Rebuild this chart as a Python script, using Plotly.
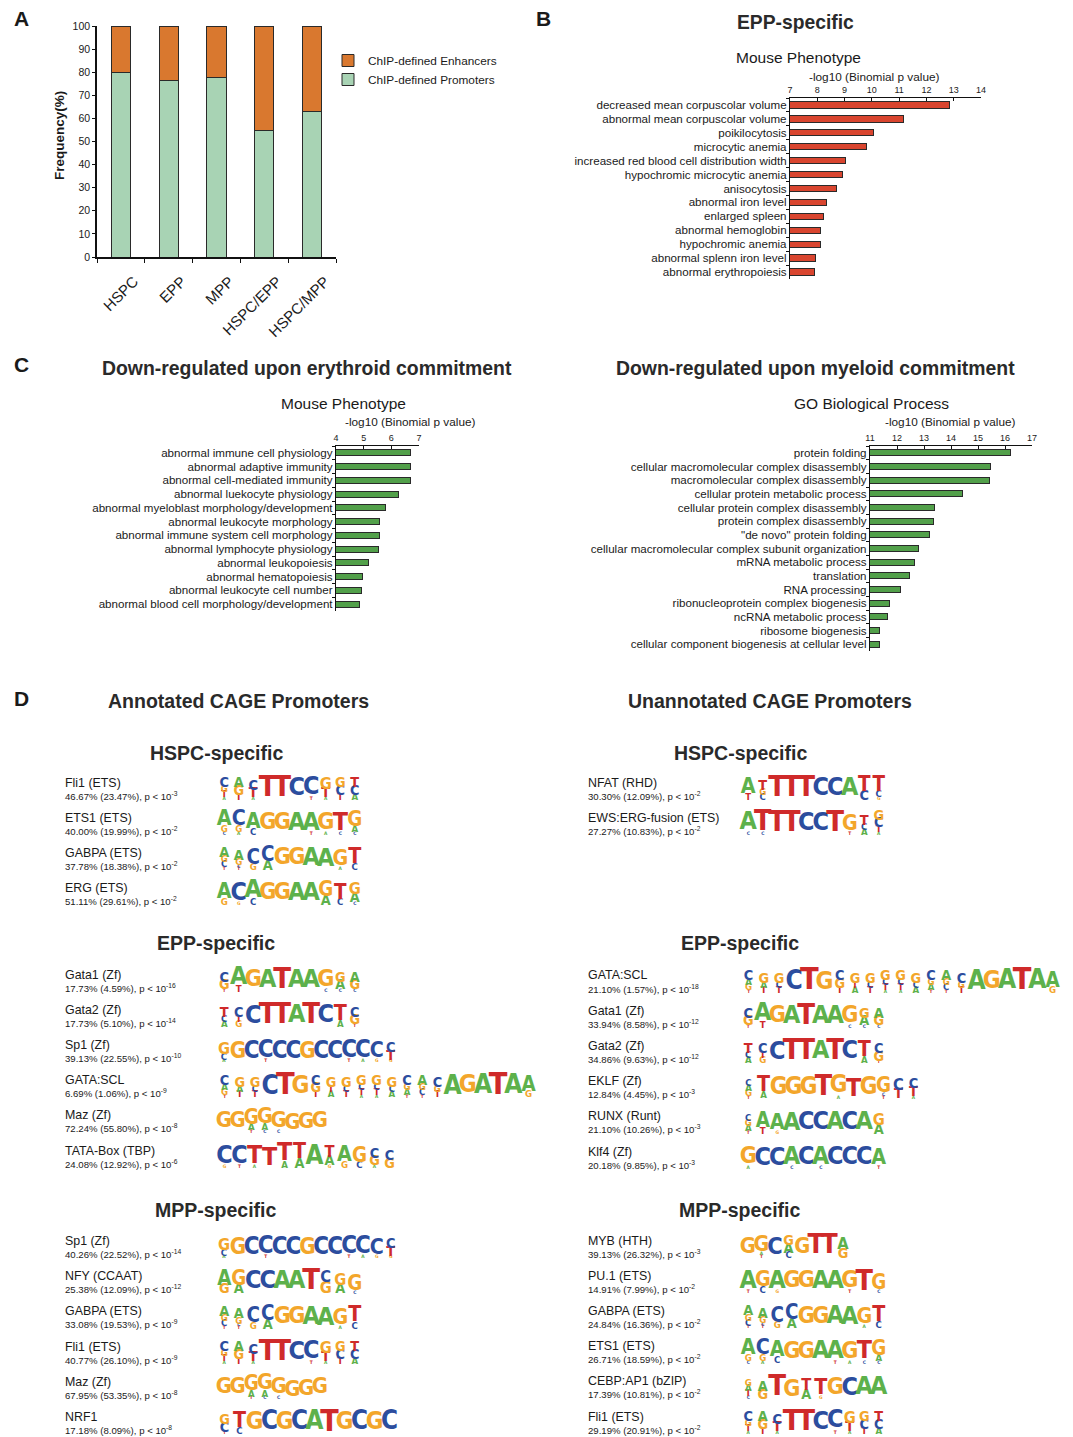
import re
import subprocess
import plotly.graph_objects as go

W, H = 1073, 1437      # browser window
OFF = 8                # default page (body) margin in front of the figure
FW, FH = W - OFF, H - OFF
FONT = "Liberation Sans, Arial, sans-serif"

# ---------------- Panel A data ----------------
a_categories = ["HSPC", "EPP", "MPP", "HSPC/EPP", "HSPC/MPP"]
a_promoters = [79.8, 76.2, 77.6, 54.8, 63.2]
a_enhancers = [20.2, 23.8, 22.4, 45.2, 36.8]

# ---------------- Panel B data ----------------
b_terms = ["decreased mean corpuscolar volume", "abnormal mean corpuscolar volume", "poikilocytosis",
           "microcytic anemia", "increased red blood cell distribution width", "hypochromic microcytic anemia",
           "anisocytosis", "abnormal iron level", "enlarged spleen", "abnormal hemoglobin",
           "hypochromic anemia", "abnormal splenn iron level", "abnormal erythropoiesis"]
b_values = [12.84, 11.16, 10.06, 9.81, 9.02, 8.94, 8.72, 8.35, 8.22, 8.11, 8.11, 7.94, 7.91]

# ---------------- Panel C data ----------------
c1_terms = ["abnormal immune cell physiology", "abnormal adaptive immunity", "abnormal cell-mediated immunity",
            "abnormal luekocyte physiology", "abnormal myeloblast morphology/development",
            "abnormal leukocyte morphology", "abnormal immune system cell morphology",
            "abnormal lymphocyte physiology", "abnormal leukopoiesis", "abnormal hematopoiesis",
            "abnormal leukocyte cell number", "abnormal blood cell morphology/development"]
c1_values = [6.71, 6.69, 6.69, 6.26, 5.78, 5.59, 5.56, 5.53, 5.16, 4.94, 4.91, 4.85]

c2_terms = ["protein folding", "cellular macromolecular complex disassembly", "macromolecular complex disassembly",
            "cellular protein metabolic process", "cellular protein complex disassembly",
            "protein complex disassembly", "\"de novo\" protein folding",
            "cellular macromolecular complex subunit organization", "mRNA metabolic process", "translation",
            "RNA processing", "ribonucleoprotein complex biogenesis", "ncRNA metabolic process",
            "ribosome biogenesis", "cellular component biogenesis at cellular level"]
c2_values = [16.22, 15.47, 15.41, 14.43, 13.40, 13.35, 13.19, 12.78, 12.63, 12.45, 12.12, 11.72, 11.66, 11.37, 11.35]

# ---------------- Panel D data (logo columns: letter+weight, top -> bottom, 9 = full) ----------------
MOTIF_FLI1 = "C3G2T2A1 A3G3T2 C3T3A1 T9 T9 C9 C8T1 G4T3A1 G3C3T2 T3C3A2"
MOTIF_ETS1 = "A6G2C1 C6G2A1 A6C2 G9 G9 A9 A7T1 G7A1 T7C1 G5A2C1"
MOTIF_GABPA = "A3G2C2T1 A3G2C1T1 C5G2 C5A3 G9 G9 A9 A8 G6A1 T6C2"
MOTIF_ERG = "A6G2 C7G1 A7C2 G9 G9 A9 A9 G5A3 T5C2 G4A3C1"
MOTIF_NFAT = "A6T2 T3G2C2 T9 T9 T9 C9 C9 A9 T5C3 T5C2G1"
MOTIF_EWSERG = "A8C1 T8C1 T9 T9 C9 C9 T9 G6T1 T3C2A2 G3C3T2A1"
MOTIF_GATA1 = "C3G3T1 A7T2 G9 A9 T9 A9 A9 G7C1 G3A3C1 A3G3C1"
MOTIF_GATA2 = "T3C2A2 C3T2G2 C8 T9 T9 A9 T9 C9 T6A2 C3G3T1"
MOTIF_SP1 = "G4C2A1 G8 C8 C7T1 C8 C8 G8 C8 C8 C7T1 C7A1 C6G1 C3T3G1"
MOTIF_GATASCL = ("C3A2G2T1 G3A2T2 G3C2T2 C8 T9 G8 C3G3T2 G3T2A2 G3C2T2 G3C2T2A1 G3C2T2A1 "
                 "G3C2A2 C3G2A2T1 A3G2C2T1 C3G2T2 A8 G9 A9 T9 A9 A5G2")
MOTIF_MAZ = "G9 G9 G5A2T1 G6A2C1 G7C1 G7 G8 G9"
MOTIF_TATA = "C7G1 C7T1 T7A1 T7 T7A2 T6A3 A8 T4A3G1 A6G2 G5C2 C3G3A1 C3G3"
MOTIF_EKLF = "C2A2G2T1 T6A2 G8 G8 G8 T8 G8A1 T7 G8 G5C1T1 C4T3 C3T3A1"
MOTIF_RUNX = "C2G2A2T1 A5T2 A6G1 A8 C9 C9 A9 C9 A9 G4A3"
MOTIF_KLF4 = "G7A1 C8 C8 A7C1 C9 A7C1 C9 C9 C9 A6T1"
MOTIF_NFY = "A5G3 G5A3 C9 C9 A9 A9 T9 C4G4 G4A3 G5C1"
MOTIF_NRF1 = "G3C3T1 T6C2 G9 C9 G9 C9 A9 T9 G9 C9 G9 C9"
MOTIF_MYB = "G8 G6A1T1 C8 G3A3C2 G8 T9 T9 A4G3"
MOTIF_PU1 = "A7T1 G6C2 A7G1 G9 G9 A9 A9 G7T1 T8 G5C1"
MOTIF_CEBP = "G2A2T2C1 A3G3 T9 G7 T4A3 T6G1 G8 C8 A9 A9"

dl_hspc_names = ["Fli1 (ETS)", "ETS1 (ETS)", "GABPA (ETS)", "ERG (ETS)"]
dl_hspc_pct = ["46.67% (23.47%)", "40.00% (19.99%)", "37.78% (18.38%)", "51.11% (29.61%)"]
dl_hspc_pexp = [-3, -2, -2, -2]
dl_hspc_motifs = [MOTIF_FLI1, MOTIF_ETS1, MOTIF_GABPA, MOTIF_ERG]

dr_hspc_names = ["NFAT (RHD)", "EWS:ERG-fusion (ETS)"]
dr_hspc_pct = ["30.30% (12.09%)", "27.27% (10.83%)"]
dr_hspc_pexp = [-2, -2]
dr_hspc_motifs = [MOTIF_NFAT, MOTIF_EWSERG]

dl_epp_names = ["Gata1 (Zf)", "Gata2 (Zf)", "Sp1 (Zf)", "GATA:SCL", "Maz (Zf)", "TATA-Box (TBP)"]
dl_epp_pct = ["17.73% (4.59%)", "17.73% (5.10%)", "39.13% (22.55%)", "6.69% (1.06%)",
              "72.24% (55.80%)", "24.08% (12.92%)"]
dl_epp_pexp = [-16, -14, -10, -9, -8, -6]
dl_epp_motifs = [MOTIF_GATA1, MOTIF_GATA2, MOTIF_SP1, MOTIF_GATASCL, MOTIF_MAZ, MOTIF_TATA]

dr_epp_names = ["GATA:SCL", "Gata1 (Zf)", "Gata2 (Zf)", "EKLF (Zf)", "RUNX (Runt)", "Klf4 (Zf)"]
dr_epp_pct = ["21.10% (1.57%)", "33.94% (8.58%)", "34.86% (9.63%)", "12.84% (4.45%)",
              "21.10% (10.26%)", "20.18% (9.85%)"]
dr_epp_pexp = [-18, -12, -12, -3, -3, -3]
dr_epp_motifs = [MOTIF_GATASCL, MOTIF_GATA1, MOTIF_GATA2, MOTIF_EKLF, MOTIF_RUNX, MOTIF_KLF4]

dl_mpp_names = ["Sp1 (Zf)", "NFY (CCAAT)", "GABPA (ETS)", "Fli1 (ETS)", "Maz (Zf)", "NRF1"]
dl_mpp_pct = ["40.26% (22.52%)", "25.38% (12.09%)", "33.08% (19.53%)", "40.77% (26.10%)",
              "67.95% (53.35%)", "17.18% (8.09%)"]
dl_mpp_pexp = [-14, -12, -9, -9, -8, -8]
dl_mpp_motifs = [MOTIF_SP1, MOTIF_NFY, MOTIF_GABPA, MOTIF_FLI1, MOTIF_MAZ, MOTIF_NRF1]

dr_mpp_names = ["MYB (HTH)", "PU.1 (ETS)", "GABPA (ETS)", "ETS1 (ETS)", "CEBP:AP1 (bZIP)", "Fli1 (ETS)"]
dr_mpp_pct = ["39.13% (26.32%)", "14.91% (7.99%)", "24.84% (16.36%)", "26.71% (18.59%)",
              "17.39% (10.81%)", "29.19% (20.91%)"]
dr_mpp_pexp = [-3, -2, -2, -2, -2, -2]
dr_mpp_motifs = [MOTIF_MYB, MOTIF_PU1, MOTIF_GABPA, MOTIF_ETS1, MOTIF_CEBP, MOTIF_FLI1]

# ---------------- styles ----------------
GREEN_A = "#A8D3B4"
ORANGE_A = "#D9782F"
RED_B = "#D9452F"
GREEN_C = "#52A04A"
BASE_COL = {"A": "#5DB14B", "C": "#2C4D9E", "G": "#F3A62B", "T": "#CF2A2A"}
TXT = "#1a1a1a"
TITLE = "#2a2a2a"


# ---------------- logo font: prefer a condensed face if present ----------------
def installed_families():
    try:
        out = subprocess.run(["fc-list", ":", "family"], capture_output=True, text=True, timeout=20).stdout
    except Exception:
        return set()
    fams = set()
    for line in out.splitlines():
        for f in line.split(","):
            fams.add(f.strip())
    return fams


_fams = installed_families()
LOGO_FONT, WF = "Liberation Sans", 0.778     # em width of 'G'
for _name, _wf in [("Noto Sans ExtraCondensed", 0.45), ("Noto Sans Condensed", 0.55),
                   ("Liberation Sans Narrow", 0.64), ("DejaVu Sans Condensed", 0.70)]:
    if _name in _fams:
        LOGO_FONT, WF = _name, _wf
        break
LETTER_W = {"G": 1.0, "C": 0.93, "A": 0.93, "T": 0.80}
CAP = 0.72

# logo column widths (px) - layout only
COL_W_DEFAULT = 14.5
COL_W = {MOTIF_GATASCL: 15.2, MOTIF_SP1: 13.9, MOTIF_MAZ: 13.7, MOTIF_MYB: 13.6,
         MOTIF_TATA: 15.0, MOTIF_EKLF: 15.0, MOTIF_NRF1: 15.0}
HFULL = 23.0
ROW_STEP = 35.2


# ---------- coordinate mapping (page pixel -> figure paper) ----------
def px(x):
    return (x - OFF) / FW


def py(y):
    return 1 - (y - OFF) / FH


def parse_motif(m):
    return [[(L, int(w)) for L, w in re.findall(r"([ACGT])(\d)", tok)] for tok in m.split()]


groups = [
    (65, 217, 216, "HSPC-specific", 753, 782.7, 35.0, dl_hspc_names, dl_hspc_pct, dl_hspc_pexp, dl_hspc_motifs),
    (588, 741, 740, "HSPC-specific", 753, 782.7, 35.0, dr_hspc_names, dr_hspc_pct, dr_hspc_pexp, dr_hspc_motifs),
    (65, 217, 216, "EPP-specific", 943, 974.5, ROW_STEP, dl_epp_names, dl_epp_pct, dl_epp_pexp, dl_epp_motifs),
    (588, 741, 740, "EPP-specific", 943, 975.5, ROW_STEP, dr_epp_names, dr_epp_pct, dr_epp_pexp, dr_epp_motifs),
    (65, 217, 216, "MPP-specific", 1210, 1241, ROW_STEP, dl_mpp_names, dl_mpp_pct, dl_mpp_pexp, dl_mpp_motifs),
    (588, 741, 740, "MPP-specific", 1210, 1240.5, ROW_STEP, dr_mpp_names, dr_mpp_pct, dr_mpp_pexp, dr_mpp_motifs),
]

lx, ly, lt, ls, lc = [], [], [], [], []
for (xt, xl, xc, title, yt, y0, step, names, pct, pexp, motifs) in groups:
    for i, mot in enumerate(motifs):
        ybase = y0 + i * step + 17.5
        cw = COL_W.get(mot, COL_W_DEFAULT)
        for j, col in enumerate(parse_motif(mot)):
            cum = 0.0
            for L, w in reversed(col):
                h = w * HFULL / 9.0
                boost = 1.35 if w <= 3 else (1.15 if w <= 5 else 1.0)
                fs = min(boost * h / CAP, cw * 1.12 / (WF * LETTER_W[L]))
                lx.append(xl + (j + 0.5) * cw)
                ly.append(ybase - cum - h / 2.0)
                lt.append("<b>%s</b>" % L)
                ls.append(max(fs, 1.5))
                lc.append(BASE_COL[L])
                cum += h

fig = go.Figure()

# ---------- Panel A ----------
fig.add_trace(go.Bar(x=a_categories, y=a_promoters, name="ChIP-defined Promoters", width=0.4,
                     marker=dict(color=GREEN_A, line=dict(color="#2a2a2a", width=1)),
                     xaxis="x", yaxis="y"))
fig.add_trace(go.Bar(x=a_categories, y=a_enhancers, name="ChIP-defined Enhancers", width=0.4,
                     marker=dict(color=ORANGE_A, line=dict(color="#2a2a2a", width=1)),
                     xaxis="x", yaxis="y"))


# ---------- Panels B, C ----------
def hbar(terms, values, color, xa, ya):
    fig.add_trace(go.Bar(y=terms, x=values, orientation="h", width=0.45, showlegend=False,
                         marker=dict(color=color, line=dict(color="#2a2a2a", width=1)),
                         xaxis=xa, yaxis=ya, hoverinfo="x+y"))


hbar(b_terms, b_values, RED_B, "x2", "y2")
hbar(c1_terms, c1_values, GREEN_C, "x3", "y3")
hbar(c2_terms, c2_values, GREEN_C, "x4", "y4")

# ---------- Panel D logos (letters as text, on a pixel-scaled hidden axis) ----------
fig.add_trace(go.Scatter(x=lx, y=ly, text=lt, mode="text", textposition="middle center",
                         textfont=dict(family=LOGO_FONT + ", Liberation Sans, Arial", size=ls, color=lc),
                         xaxis="x5", yaxis="y5", showlegend=False, hoverinfo="skip"))


def ann(text, x, y, size, bold=False, xanchor="center", color=TXT, **kw):
    fig.add_annotation(text=("<b>%s</b>" % text) if bold else text, x=px(x), y=py(y),
                       xref="paper", yref="paper", showarrow=False, xanchor=xanchor, yanchor="middle",
                       font=dict(size=size, color=color, family=FONT), **kw)


for letter, x, y in [("A", 21, 18), ("B", 543, 18), ("C", 21, 365), ("D", 21, 698)]:
    ann(letter, x, y, 21, bold=True)

ann("Frequency(%)", 60, 136, 13.5, bold=True, textangle=-90)

ann("EPP-specific", 795, 22, 19.3, bold=True, color=TITLE)
ann("Mouse Phenotype", 798, 58, 15.5)
ann("-log10 (Binomial p value)", 874, 77, 11.8)

ann("Down-regulated upon erythroid commitment", 307, 368, 19.4, bold=True, color=TITLE)
ann("Mouse Phenotype", 343, 404, 15.5)
ann("-log10 (Binomial p value)", 410, 422, 11.8)

ann("Down-regulated upon myeloid commitment", 815, 368, 19.4, bold=True, color=TITLE)
ann("GO Biological Process", 871, 404, 15.5)
ann("-log10 (Binomial p value)", 950, 422, 11.8)

ann("Annotated CAGE Promoters", 238, 701, 19.5, bold=True, color=TITLE)
ann("Unannotated CAGE Promoters", 770, 701, 19.5, bold=True, color=TITLE)

for (xt, xl, xc, title, yt, y0, step, names, pct, pexp, motifs) in groups:
    ann(title, xc, yt, 19.5, bold=True, color=TITLE)
    for i, (nm, pc, pe) in enumerate(zip(names, pct, pexp)):
        yy = y0 + i * step
        ann(nm, xt - 2, yy, 12.4, xanchor="left")
        ann("%s, p &lt; 10<sup>%d</sup>" % (pc, pe), xt - 2, yy + 13, 9.6, xanchor="left")

# ---------- layout ----------
axis_common = dict(showgrid=False, zeroline=False, showline=True, linecolor="#111", linewidth=1.2,
                   tickcolor="#111", fixedrange=True, automargin=False)

hx = dict(axis_common, side="top", ticks="inside", ticklen=3, dtick=1,
          tickfont=dict(size=9, family=FONT, color=TXT))
hy = dict(axis_common, type="category", ticks="outside", tickson="boundaries", ticklen=3,
          tickmode="linear", tick0=0, dtick=1,
          tickfont=dict(size=11.6, family=FONT, color=TXT))

fig.update_layout(
    width=FW, height=FH, autosize=False,
    margin=dict(l=0, r=0, t=0, b=0, pad=0, autoexpand=False),
    paper_bgcolor="white", plot_bgcolor="white",
    barmode="stack",
    font=dict(family=FONT, color=TXT),
    showlegend=True,
    legend=dict(x=px(328), y=py(46), xanchor="left", yanchor="top", traceorder="reversed",
                font=dict(size=11.8, family=FONT, color=TXT), bgcolor="rgba(0,0,0,0)",
                itemwidth=30, tracegroupgap=0),
    xaxis=dict(axis_common, domain=[px(97), px(336)], anchor="y", type="category", tickangle=-45,
               ticks="outside", tickson="boundaries", ticklen=4, linewidth=1.5,
               ticklabelshift=13, ticklabelstandoff=8,
               tickfont=dict(size=15, family=FONT, color=TXT)),
    yaxis=dict(axis_common, domain=[py(257), py(26)], anchor="x", range=[0, 100], dtick=10,
               ticks="outside", ticklen=3, linewidth=1.5, tickfont=dict(size=10.5, family=FONT, color=TXT)),
    xaxis2=dict(hx, domain=[px(790), px(981)], anchor="y2", range=[7, 14]),
    yaxis2=dict(hy, domain=[py(279), py(98)], anchor="x2", range=[len(b_terms) - 0.5, -0.5]),
    xaxis3=dict(hx, domain=[px(336), px(419)], anchor="y3", range=[4, 7]),
    yaxis3=dict(hy, domain=[py(611), py(446)], anchor="x3", range=[len(c1_terms) - 0.5, -0.5]),
    xaxis4=dict(hx, domain=[px(870), px(1032)], anchor="y4", range=[11, 17]),
    yaxis4=dict(hy, domain=[py(651), py(446)], anchor="x4", range=[len(c2_terms) - 0.5, -0.5]),
    xaxis5=dict(domain=[0, 1], anchor="y5", range=[OFF, W], visible=False, fixedrange=True, automargin=False),
    yaxis5=dict(domain=[0, py(675)], anchor="x5", range=[H, 675], visible=False, fixedrange=True,
                automargin=False),
)

fig.write_html("out.html")
